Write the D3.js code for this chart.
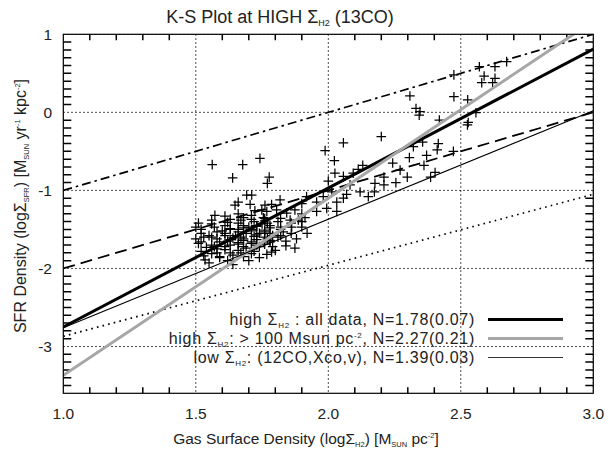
<!DOCTYPE html>
<html>
<head>
<meta charset="utf-8">
<script src="https://cdn.jsdelivr.net/npm/d3@7"></script>
<style>
  html, body { margin: 0; padding: 0; background: #fff; }
  svg { display: block; font-family: "Liberation Sans", Arial, Helvetica, sans-serif; }
</style>
</head>
<body>
<svg id="chart" width="608" height="462"></svg>
<script>
// Axis ranges and tick labels
const xDomain = [1.0, 3.0];
const yDomain = [-3.6, 1.0];
const xTickValues = [1.0, 1.5, 2.0, 2.5, 3.0];
const xTickLabels = ["1.0", "1.5", "2.0", "2.5", "3.0"];
const yTickValues = [-3, -2, -1, 0, 1];
const yTickLabels = ["-3", "-2", "-1", "0", "1"];
const xMinorTicks = [1.1, 1.2, 1.3, 1.4, 1.6, 1.7, 1.8, 1.9, 2.1, 2.2, 2.3, 2.4, 2.6, 2.7, 2.8, 2.9];
const yMinorTicks = [-3.5, -3.4, -3.3, -3.2, -3.1, -2.9, -2.8, -2.7, -2.6, -2.5, -2.4, -2.3, -2.2, -2.1,
  -1.9, -1.8, -1.7, -1.6, -1.5, -1.4, -1.3, -1.2, -1.1, -0.9, -0.8, -0.7, -0.6, -0.5, -0.4, -0.3,
  -0.2, -0.1, 0.1, 0.2, 0.3, 0.4, 0.5, 0.6, 0.7, 0.8, 0.9];

// Power-law fits: logSFR = slope * logGas + intercept
const fitNames = ["all", "above100", "low"];
const fitSlopes = [1.78, 2.27, 1.39];
const fitIntercepts = [-4.53, -5.64, -4.15];

// Reference lines (dash-dot, dashed, dotted): logSFR = slope * logGas + intercept
const refSlopes = [1.0, 1.0, 0.91];
const refIntercepts = [-2.0, -3.0, -3.78];

// Individual measurements [log Sigma_H2, log Sigma_SFR]
const points = [
  [2.673,0.65],[2.629,0.585],[2.57,0.585],[2.474,0.48],[2.588,0.465],[2.629,0.435],
  [2.579,0.38],[2.62,0.38],[2.308,0.21],[2.474,0.2],[2.526,0.16],[2.331,0.05],
  [2.346,0.01],[2.343,-0.035],[2.419,-0.1],[2.557,-0.005],[2.528,-0.13],[2.525,-0.16],
  [2.2,-0.31],[2.321,-0.44],[2.356,-0.38],[2.415,-0.4],[2.411,-0.48],[2.472,-0.5],
  [2.306,-0.58],[2.371,-0.55],[2.243,-0.65],[2.361,-0.68],[2.271,-0.74],[2.21,-0.83],
  [2.298,-0.83],[2.21,-0.93],[2.255,-0.9],[2.403,-0.77],[2.386,-0.83],
  [2.057,-0.39],[1.988,-0.49],[2.023,-0.62],[1.742,-0.59],[1.562,-0.67],[1.677,-0.67],
  [1.639,-0.84],[1.777,-0.83],[1.77,-0.91],[2.025,-0.78],[2.057,-0.82],[2.0,-0.88],
  [2.13,-0.68],[2.113,-0.73],[2.094,-0.78],[2.176,-0.91],[2.174,-1.02],[2.082,-0.93],
  [2.013,-1.02],[2.069,-1.05],[2.12,-1.02],[2.151,-1.08],[1.981,-1.08],[1.956,-1.15],
  [2.032,-1.15],[2.057,-1.1],[1.994,-1.23],[2.032,-1.27],[1.918,-1.08],[1.9,-1.17],
  [1.912,-1.35],[1.956,-1.27],[1.874,-1.25],[1.843,-1.29],[1.856,-1.38],[1.887,-1.38],
  [1.862,-1.47],[1.9,-1.47],[1.818,-1.12],[1.786,-1.18],[1.805,-1.25],[1.768,-1.27],
  [1.761,-1.19],[1.692,-1.06],[1.711,-1.06],[1.66,-1.15],[1.648,-1.19],[1.705,-1.18],
  [1.723,-1.26],[1.749,-1.25],[1.755,-1.35],[1.572,-1.32],[1.874,-1.74],[1.768,-1.82],
  [1.786,-1.79],[1.56,-1.81],[1.59,-1.85],[1.535,-1.89],
  [1.51,-1.42],[1.52,-1.55],[1.53,-1.60],[1.51,-1.68],[1.54,-1.73],[1.52,-1.78],[1.50,-1.62],
  [1.56,-1.38],[1.57,-1.47],[1.58,-1.53],[1.56,-1.60],[1.59,-1.66],[1.57,-1.72],[1.58,-1.80],
  [1.59,-1.86],[1.55,-1.58],
  [1.61,-1.33],[1.62,-1.41],[1.63,-1.49],[1.61,-1.55],[1.64,-1.61],[1.62,-1.65],[1.63,-1.70],
  [1.61,-1.76],[1.64,-1.83],[1.62,-1.90],[1.60,-1.52],
  [1.66,-1.30],[1.67,-1.38],[1.68,-1.45],[1.66,-1.50],[1.69,-1.55],[1.67,-1.60],[1.68,-1.64],
  [1.66,-1.69],[1.69,-1.74],[1.67,-1.80],[1.68,-1.85],[1.65,-1.58],[1.70,-1.47],
  [1.71,-1.32],[1.72,-1.40],[1.73,-1.46],[1.71,-1.50],[1.74,-1.55],[1.72,-1.59],[1.73,-1.63],
  [1.71,-1.68],[1.74,-1.72],[1.72,-1.78],[1.75,-1.43],
  [1.76,-1.36],[1.77,-1.42],[1.78,-1.48],[1.76,-1.53],[1.79,-1.58],[1.77,-1.62],[1.78,-1.66],
  [1.79,-1.72],
  [1.81,-1.40],[1.82,-1.47],[1.83,-1.53],[1.81,-1.60],[1.84,-1.65],
  [1.52,-1.50],[1.52,-1.66],[1.56,-1.43],[1.56,-1.70],[1.58,-1.62],[1.58,-1.75],
  [1.61,-1.45],[1.61,-1.58],[1.61,-1.72],[1.63,-1.37],[1.63,-1.50],[1.63,-1.63],[1.63,-1.80],
  [1.66,-1.42],[1.66,-1.53],[1.66,-1.67],[1.66,-1.77],[1.68,-1.35],[1.68,-1.48],[1.68,-1.62],
  [1.68,-1.72],[1.71,-1.37],[1.71,-1.52],[1.71,-1.66],[1.71,-1.81],[1.73,-1.45],[1.73,-1.57],
  [1.73,-1.70],[1.76,-1.39],[1.76,-1.51],[1.76,-1.60],[1.76,-1.69],[1.78,-1.45],[1.78,-1.55],
  [1.78,-1.64],[1.82,-1.36],[1.82,-1.50],[1.82,-1.58],[1.86,-1.42],[1.86,-1.55],[1.90,-1.40],
  [1.90,-1.30],[1.50,-1.47],[1.53,-1.84],[1.55,-1.93],[1.64,-1.95],[1.70,-1.90],[1.74,-1.86],
  [1.80,-1.77],[1.84,-1.71],[1.88,-1.62],[1.92,-1.55]
];

// Legend entries
const legendRows = [
  { pre: "high Σ", sub: "H2", post: " : all data, N=1.78(0.07)" },
  { pre: "high Σ", sub: "H2", post: ": > 100 Msun pc", sup: "-2", tail: ", N=2.27(0.21)" },
  { pre: "low Σ", sub: "H2", post: ": (12CO,Xco,v), N=1.39(0.03)" }
];

(function draw() {
  const svg = d3.select("#chart");
  const pL = 63.3, pR = 593.3, pT = 34.3, pB = 393.3;

  const x = d3.scaleLinear().domain(xDomain).range([pL, pR]);
  const y = d3.scaleLinear().domain(yDomain).range([pB, pT]);

  svg.append("defs").append("clipPath").attr("id", "plotClip")
    .append("rect").attr("x", pL).attr("y", pT)
    .attr("width", pR - pL).attr("height", pB - pT);

  const plot = svg.append("g").attr("clip-path", "url(#plotClip)");

  // Dotted grid at major ticks
  plot.selectAll(".vgrid").data(xTickValues).join("line").attr("class", "vgrid")
    .attr("x1", d => x(d)).attr("x2", d => x(d))
    .attr("y1", pT).attr("y2", pB)
    .attr("stroke", "#000").attr("stroke-width", 1).attr("stroke-dasharray", "1.4,2.6");
  plot.selectAll(".hgrid").data(yTickValues).join("line").attr("class", "hgrid")
    .attr("y1", d => y(d)).attr("y2", d => y(d))
    .attr("x1", pL).attr("x2", pR)
    .attr("stroke", "#000").attr("stroke-width", 1).attr("stroke-dasharray", "1.4,2.6");

  // Minor tick marks along all four sides of the frame
  const tickG = plot.append("g").attr("class", "minor-ticks");
  tickG.selectAll(".xtb").data(xMinorTicks).join("line").attr("class", "xtb")
    .attr("x1", d => x(d)).attr("x2", d => x(d)).attr("y1", pB).attr("y2", pB - 6)
    .attr("stroke", "#000").attr("stroke-width", 1.5);
  tickG.selectAll(".xtt").data(xMinorTicks).join("line").attr("class", "xtt")
    .attr("x1", d => x(d)).attr("x2", d => x(d)).attr("y1", pT).attr("y2", pT + 6)
    .attr("stroke", "#000").attr("stroke-width", 1.5);
  tickG.selectAll(".ytl").data(yMinorTicks).join("line").attr("class", "ytl")
    .attr("y1", d => y(d)).attr("y2", d => y(d)).attr("x1", pL).attr("x2", pL + 8)
    .attr("stroke", "#000").attr("stroke-width", 1.5);
  tickG.selectAll(".ytr").data(yMinorTicks).join("line").attr("class", "ytr")
    .attr("y1", d => y(d)).attr("y2", d => y(d)).attr("x1", pR).attr("x2", pR - 8)
    .attr("stroke", "#000").attr("stroke-width", 1.5);

  // Reference lines
  const refStyles = [
    { dash: "9,4,2.5,4", width: 1.7 },
    { dash: "12,6", width: 1.8 },
    { dash: "1.6,4.2", width: 1.7 }
  ];
  refSlopes.forEach((m, i) => {
    plot.append("line")
      .attr("x1", x(xDomain[0])).attr("y1", y(m * xDomain[0] + refIntercepts[i]))
      .attr("x2", x(xDomain[1])).attr("y2", y(m * xDomain[1] + refIntercepts[i]))
      .attr("stroke", "#000").attr("stroke-width", refStyles[i].width)
      .attr("stroke-dasharray", refStyles[i].dash);
  });

  // Data points as plus signs
  const s = 4.8;
  plot.append("g").selectAll("path").data(points).join("path")
    .attr("d", d => {
      const px = x(d[0]), py = y(d[1]);
      return `M${px - s},${py}H${px + s}M${px},${py - s}V${py + s}`;
    })
    .attr("stroke", "#000").attr("stroke-width", 1.25).attr("fill", "none");

  // Fit lines
  const fitStyles = [
    { color: "#000", width: 3 },
    { color: "#a6a6a6", width: 3 },
    { color: "#000", width: 1.1 }
  ];
  fitNames.forEach((name, i) => {
    plot.append("line").attr("class", "fit-" + name)
      .attr("x1", x(xDomain[0])).attr("y1", y(fitSlopes[i] * xDomain[0] + fitIntercepts[i]))
      .attr("x2", x(xDomain[1])).attr("y2", y(fitSlopes[i] * xDomain[1] + fitIntercepts[i]))
      .attr("stroke", fitStyles[i].color).attr("stroke-width", fitStyles[i].width);
  });

  // Frame
  svg.append("rect").attr("x", pL).attr("y", pT)
    .attr("width", pR - pL).attr("height", pB - pT)
    .attr("fill", "none").attr("stroke", "#000").attr("stroke-width", 1.2);

  // Tick labels
  svg.append("g").selectAll("text").data(xTickValues).join("text")
    .attr("x", d => x(d)).attr("y", 419)
    .attr("text-anchor", "middle").attr("font-size", 15.5).attr("fill", "#222")
    .text((d, i) => xTickLabels[i]);
  svg.append("g").selectAll("text").data(yTickValues).join("text")
    .attr("x", 52).attr("y", d => y(d) + 5.5)
    .attr("text-anchor", "end").attr("font-size", 15.5).attr("fill", "#222")
    .text((d, i) => yTickLabels[i]);

  // Text with sub/superscripts
  function richText(sel, parts, small) {
    parts.forEach(p => {
      const t = sel.append("tspan").text(p.t);
      if (p.sub) t.attr("font-size", small).attr("dy", 3);
      if (p.sup) t.attr("font-size", small).attr("dy", -6);
      if (p.back) t.attr("dy", p.back);
    });
  }

  // Title
  const title = svg.append("text").attr("x", 280).attr("y", 23)
    .attr("text-anchor", "middle").attr("font-size", 18).attr("fill", "#222");
  richText(title, [
    { t: "K-S Plot at HIGH Σ" }, { t: "H2", sub: true }, { t: " (13CO)", back: -3 }
  ], 9);

  // X-axis title
  const xt = svg.append("text").attr("x", 306).attr("y", 444)
    .attr("text-anchor", "middle").attr("font-size", 15.5).attr("fill", "#222");
  richText(xt, [
    { t: "Gas Surface Density (logΣ" }, { t: "H2", sub: true }, { t: ") [M", back: -3 },
    { t: "SUN", sub: true }, { t: " pc", back: -3 }, { t: "-2", sup: true }, { t: "]", back: 6 }
  ], 7.5);

  // Y-axis title
  const yt = svg.append("text").attr("transform", "translate(26,206) rotate(-90)")
    .attr("text-anchor", "middle").attr("font-size", 16).attr("fill", "#222");
  richText(yt, [
    { t: "SFR Density (logΣ" }, { t: "SFR", sub: true }, { t: ") [M", back: -3 },
    { t: "SUN", sub: true }, { t: " yr", back: -3 }, { t: "-1", sup: true },
    { t: " kpc", back: 6 }, { t: "-2", sup: true }, { t: "]", back: 6 }
  ], 7.5);

  // Legend
  const legendY = [325, 344, 363];
  legendRows.forEach((r, i) => {
    const t = svg.append("text").attr("x", 475).attr("y", legendY[i])
      .attr("text-anchor", "end").attr("font-size", 16).attr("letter-spacing", 0.7)
      .attr("fill", "#222");
    const parts = [{ t: r.pre }, { t: r.sub, sub: true }, { t: r.post, back: -3 }];
    if (r.sup) { parts.push({ t: r.sup, sup: true }); parts.push({ t: r.tail, back: 6 }); }
    richText(t, parts, 8);
    svg.append("line")
      .attr("x1", 488).attr("x2", 563)
      .attr("y1", legendY[i] - 5.5).attr("y2", legendY[i] - 5.5)
      .attr("stroke", i === 2 ? "#333" : fitStyles[i].color)
      .attr("stroke-width", fitStyles[i].width);
  });
})();
</script>
</body>
</html>
